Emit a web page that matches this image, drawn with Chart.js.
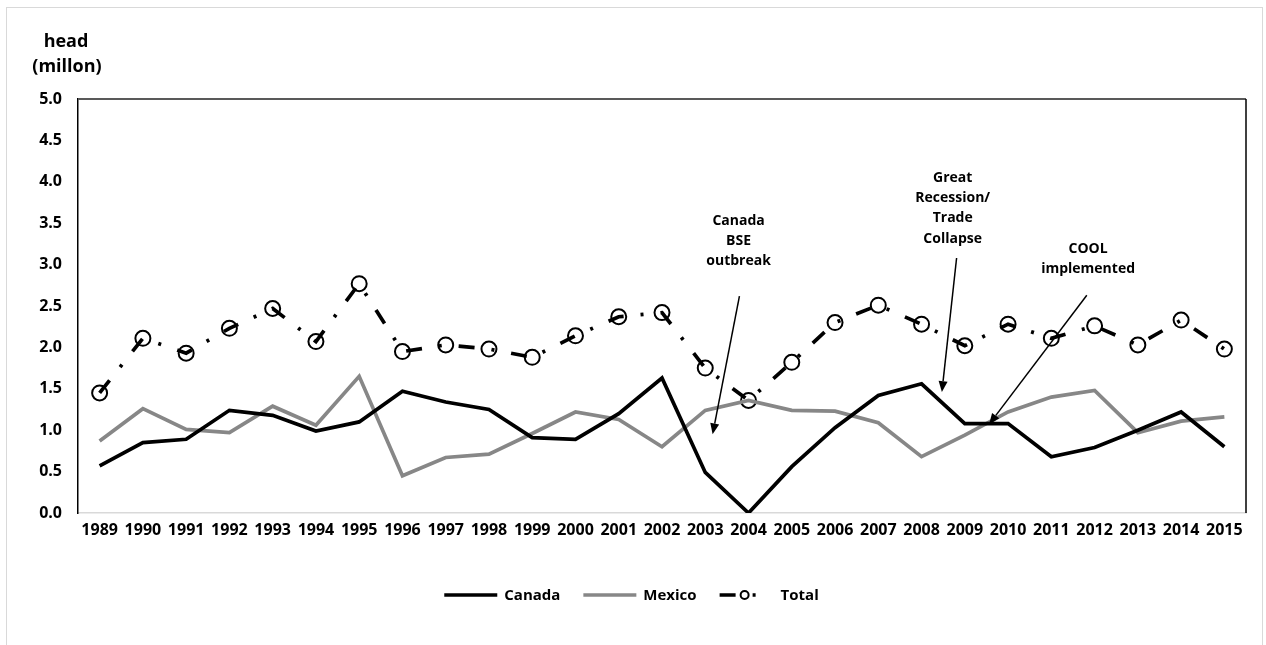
<!DOCTYPE html>
<html>
<head>
<meta charset="utf-8">
<script src="https://cdn.jsdelivr.net/npm/chart.js@4/dist/chart.umd.min.js"></script>
<style>
  html, body { margin:0; padding:0; background:#fff; }
  #wrap { width:1266px; height:645px; }
</style>
</head>
<body>
<div id="wrap"><canvas id="c" width="1266" height="645"></canvas></div>
<script>
// years on the x axis
const years = ['1989','1990','1991','1992','1993','1994','1995','1996','1997','1998','1999','2000','2001','2002',
  '2003','2004','2005','2006','2007','2008','2009','2010','2011','2012','2013','2014','2015'];

// head (million)
const canada = [0.57,0.85,0.89,1.24,1.18,0.99,1.10,1.47,1.34,1.25,0.91,0.89,1.20,1.63,
  0.49,0.00,0.56,1.03,1.42,1.56,1.08,1.08,0.68,0.79,1.00,1.22,0.80];
const mexico = [0.87,1.26,1.01,0.97,1.29,1.06,1.65,0.45,0.67,0.71,0.96,1.22,1.13,0.80,
  1.24,1.36,1.24,1.23,1.09,0.68,0.94,1.22,1.40,1.48,0.97,1.11,1.16];
const total = [1.45,2.11,1.93,2.23,2.47,2.07,2.77,1.95,2.03,1.98,1.88,2.14,2.37,2.42,
  1.75,1.36,1.82,2.30,2.51,2.28,2.02,2.28,2.11,2.26,2.03,2.33,1.98];

const yTicks = [0,0.5,1,1.5,2,2.5,3,3.5,4,4.5,5];

// callouts, placed in data units (x = year index, y = head)
const notes = [
  { lines:['Canada','BSE','outbreak'], text:[14.77,3.53], from:[14.79,2.62], to:[14.17,0.95] },
  { lines:['Great','Recession/','Trade','Collapse'], text:[19.72,4.05], from:[19.81,3.08], to:[19.47,1.46] },
  { lines:['COOL','implemented'], text:[22.85,3.19], from:[22.82,2.63], to:[20.56,1.07] }
];

const FONT = '"Open Sans", "DejaVu Sans", sans-serif';

const framePlugin = {
  id:'frame',
  beforeDraw(chart){
    const ctx = chart.ctx;
    ctx.save();
    ctx.strokeStyle = '#d9d9d9';
    ctx.lineWidth = 1;
    ctx.strokeRect(6.5, 7.5, 1256, 660);
    ctx.restore();
  },
  afterDatasetsDraw(chart){
    const ctx = chart.ctx, a = chart.chartArea;
    ctx.save();
    ctx.lineWidth = 2;
    ctx.strokeStyle = '#595959';
    ctx.beginPath(); ctx.moveTo(a.left, a.top); ctx.lineTo(a.right, a.top); ctx.stroke();
    ctx.lineWidth = 1.5;
    ctx.strokeStyle = '#000';
    ctx.beginPath(); ctx.moveTo(a.right, a.top); ctx.lineTo(a.right, a.bottom); ctx.stroke();

    // y axis unit label
    ctx.fillStyle = '#000';
    ctx.font = 'bold 18px ' + FONT;
    ctx.textAlign = 'center';
    ctx.textBaseline = 'middle';
    ctx.fillText('head', a.left - 12, a.top - 57);
    ctx.fillText('(millon)', a.left - 11, a.top - 32);

    // callouts
    const xs = chart.scales.x, ys = chart.scales.y;
    notes.forEach(n => {
      const tx = xs.getPixelForValue(n.text[0]);
      let ty = ys.getPixelForValue(n.text[1]);
      ctx.font = 'bold 14px ' + FONT;
      n.lines.forEach((l, i) => ctx.fillText(l, tx, ty + i * 20.3));
      const x1 = xs.getPixelForValue(n.from[0]), y1 = ys.getPixelForValue(n.from[1]);
      const x2 = xs.getPixelForValue(n.to[0]), y2 = ys.getPixelForValue(n.to[1]);
      const ang = Math.atan2(y2 - y1, x2 - x1);
      const hl = 11, hw = 4.5;
      const bx = x2 - hl * Math.cos(ang), by = y2 - hl * Math.sin(ang);
      ctx.lineWidth = 1.5;
      ctx.beginPath(); ctx.moveTo(x1, y1); ctx.lineTo(bx, by); ctx.stroke();
      ctx.beginPath();
      ctx.moveTo(x2, y2);
      ctx.lineTo(bx + hw * Math.sin(ang), by - hw * Math.cos(ang));
      ctx.lineTo(bx - hw * Math.sin(ang), by + hw * Math.cos(ang));
      ctx.closePath(); ctx.fill();
    });
    ctx.restore();
  }
};

// legend drawn by hand so the line samples look like the original
const legendPlugin = {
  id:'lineLegend',
  afterDraw(chart){
    const ctx = chart.ctx;
    const sample = 54, gapText = 6, gapItem = 23, y = 595;
    ctx.save();
    ctx.font = 'bold 15px ' + FONT;
    const items = chart.data.datasets.map(d => ({ d, w: sample + gapText + ctx.measureText(d.label).width }));
    const totalW = items.reduce((s, it) => s + it.w, 0) + gapItem * (items.length - 1);
    let x = chart.width / 2 - totalW / 2 - 2;
    items.forEach(it => {
      const d = it.d;
      ctx.strokeStyle = d.borderColor;
      ctx.lineWidth = d.borderWidth;
      ctx.setLineDash(d.borderDash || []);
      ctx.beginPath(); ctx.moveTo(x, y); ctx.lineTo(x + sample - 1, y); ctx.stroke();
      ctx.setLineDash([]);
      if (d.pointRadius > 0) {
        ctx.lineWidth = 2;
        ctx.fillStyle = '#fff';
        ctx.beginPath(); ctx.arc(x + sample / 2 - 2, y, 4, 0, Math.PI * 2); ctx.fill(); ctx.stroke();
      }
      ctx.fillStyle = '#000';
      ctx.textAlign = 'left';
      ctx.textBaseline = 'middle';
      ctx.fillText(d.label, x + sample + gapText + (d.pointRadius > 0 ? 1 : 0), y + 1);
      x += it.w + gapItem;
    });
    ctx.restore();
  }
};

new Chart(document.getElementById('c'), {
  type:'line',
  data:{
    labels: years,
    datasets:[
      { label:'Canada', data:canada, borderColor:'#000000', borderWidth:3.7, pointRadius:0, tension:0 },
      { label:'Mexico', data:mexico, borderColor:'#878787', borderWidth:3.7, pointRadius:0, tension:0 },
      { label:'Total', data:total, borderColor:'#000000', borderWidth:3.7, borderDash:[16,17,3,17],
        pointRadius:7.5, pointBorderWidth:2, pointBorderColor:'#000', pointBackgroundColor:'rgba(0,0,0,0)', tension:0 }
    ]
  },
  options:{
    responsive:false,
    animation:false,
    devicePixelRatio:1,
    layout:{ padding:{ left:0, top:99, right:20, bottom:92 } },
    plugins:{ legend:{ display:false }, title:{ display:false }, tooltip:{ enabled:false } },
    scales:{
      x:{
        type:'category', offset:true,
        grid:{ display:false, drawTicks:false },
        border:{ display:true, color:'#d9d9d9', width:1.5 },
        ticks:{ color:'#000', font:{ family:FONT, size:16, weight:'bold' }, padding:8, maxRotation:0, autoSkip:false },
        afterFit(s){ s.height = 40; }
      },
      y:{
        min:0, max:5,
        afterBuildTicks(s){ s.ticks = yTicks.map(v => ({ value:v })); },
        grid:{ display:false, drawTicks:false },
        border:{ display:true, color:'#000', width:1.5 },
        ticks:{ color:'#000', font:{ family:FONT, size:16, weight:'bold' }, padding:16,
          callback:v => Number(v).toFixed(1) },
        afterFit(s){ s.width = 78; }
      }
    }
  },
  plugins:[framePlugin, legendPlugin]
});
</script>
</body>
</html>
